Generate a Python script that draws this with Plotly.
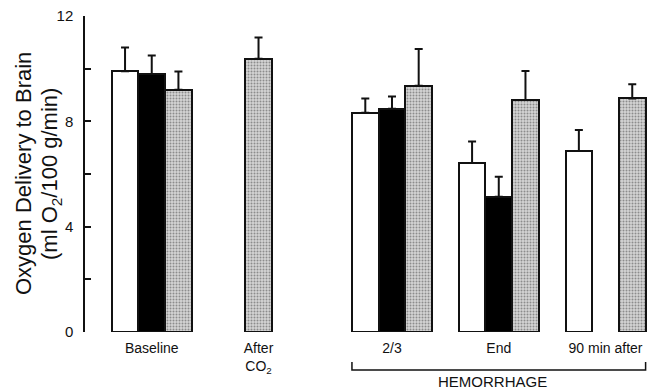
import plotly.graph_objects as go

# ---- data ----
groups = ["Baseline", "After<br>CO<sub>2</sub>", "2/3", "End", "90 min after"]
group_start = [0, 3, 9, 13, 17]          # slot of first bar in each group
white = [9.9, None, 8.33, 6.42, 6.87]
white_err = [0.9, None, 0.54, 0.81, 0.8]
black = [9.8, None, 8.48, 5.14, None]
black_err = [0.7, None, 0.46, 0.76, None]
gray = [9.2, 10.38, 9.35, 8.81, 8.87]
gray_err = [0.69, 0.8, 1.4, 1.1, 0.54]
y_tick_vals = [0, 4, 8, 12]
y_tick_text = ["0", "4", "8", "12"]
y_minor_step = 2
bracket_label = "HEMORRHAGE"
y_title_1 = "Oxygen Delivery to Brain"
y_title_2 = "(ml O<sub>2</sub>/100 g/min)"

FONT = "Liberation Sans, Arial, sans-serif"
INK = "#111111"

def series(vals, errs, offset):
    xs, ys, es = [], [], []
    for s, v, e in zip(group_start, vals, errs):
        if v is not None:
            xs.append(s + offset)
            ys.append(v)
            es.append(e)
    return xs, ys, es

fig = go.Figure()
styles = [
    (white, white_err, 0, dict(color="white")),
    (black, black_err, 1, dict(color="black")),
    (gray, gray_err, 2, dict(color="#c8c8c8",
                             pattern=dict(shape=".", fgcolor="#444444",
                                          bgcolor="#d4d4d4", size=3, solidity=0.35))),
]
for vals, errs, off, mk in styles:
    xs, ys, es = series(vals, errs, off)
    mk = dict(mk)
    mk["line"] = dict(color=INK, width=2)
    fig.add_trace(go.Bar(
        x=xs, y=ys, width=1, marker=mk,
        error_y=dict(type="data", array=es, arrayminus=[0] * len(es),
                     symmetric=False, color=INK, thickness=2, width=4),
        showlegend=False, hoverinfo="skip",
    ))

# group label positions: mean of present bar slots
label_pos = []
for i, s in enumerate(group_start):
    present = [s + o for o, arr in ((0, white), (1, black), (2, gray)) if arr[i] is not None]
    label_pos.append(sum(present) / len(present))

hem_slots = [s + o for i, s in enumerate(group_start[2:], start=2)
             for o, arr in ((0, white), (1, black), (2, gray)) if arr[i] is not None]
bx0, bx1 = min(hem_slots) - 0.5, max(hem_slots) + 0.5

fig.update_layout(
    width=652, height=392,
    margin=dict(l=85, r=4, t=16, b=60, autoexpand=False),
    paper_bgcolor="white", plot_bgcolor="white",
    barmode="overlay", bargap=0,
    font=dict(family=FONT, color=INK),
    xaxis=dict(range=[-1.5, 19.59], showgrid=False, zeroline=False, showline=False,
               tickvals=label_pos, ticktext=groups, ticks="", automargin=False,
               ticklabelstandoff=6,
               tickfont=dict(size=14, family=FONT, color=INK)),
    yaxis=dict(range=[0, 12], showgrid=False, zeroline=False, showline=True,
               linecolor=INK, linewidth=1.5, ticks="inside", ticklen=6, tickwidth=1.5,
               tickcolor=INK, tickvals=y_tick_vals, ticktext=y_tick_text, automargin=False,
               ticklabelstandoff=7,
               minor=dict(ticks="inside", ticklen=6, tickwidth=1.5, tickcolor=INK,
                          dtick=y_minor_step, showgrid=False),
               tickfont=dict(size=15, family=FONT, color=INK)),
)

# HEMORRHAGE bracket
fig.add_shape(type="path", xref="x", yref="paper",
              path=f"M {bx0},-0.095 L {bx0},-0.12 L {bx1},-0.12 L {bx1},-0.095",
              line=dict(color=INK, width=1.5))
fig.add_annotation(x=(bx0 + bx1) / 2 - 0.25, y=-0.158, xref="x", yref="paper",
                   text=bracket_label, showarrow=False, xanchor="center", yanchor="middle",
                   font=dict(size=15, family=FONT, color=INK))

# y-axis title (two lines)
for txt, px in ((y_title_1, 23), (y_title_2, 51)):
    fig.add_annotation(x=(px - 85) / 563, y=0.5, xref="paper", yref="paper",
                       text=txt, textangle=-90, showarrow=False,
                       xanchor="center", yanchor="middle",
                       font=dict(size=22, family=FONT, color=INK))

fig.write_html("out.html", config={"displayModeBar": False},
               post_script="document.body.style.margin='0';document.body.style.padding='0';")
